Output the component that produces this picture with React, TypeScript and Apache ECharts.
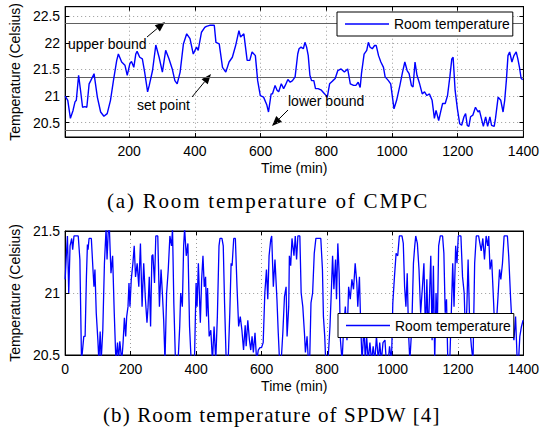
import React, { useEffect, useRef } from 'react';
import * as echarts from 'echarts';

const SERIES_NAME = 'Room temperature';

// CMPC room temperature: [time (min), temperature (Celsius)]
const topData: [number, number][] = [
  [5, 21.0], [13, 20.92], [21, 20.58], [29, 20.73], [35, 20.89], [39, 20.92], [46, 21.39], [52, 21.1],
  [58, 20.79], [65, 20.8], [71, 20.79], [78, 21.23], [83, 21.29], [93, 21.42], [103, 20.98], [113, 20.7],
  [123, 20.62], [133, 20.67], [143, 20.92], [152, 21.29], [162, 21.67], [167, 21.79], [177, 21.64],
  [187, 21.58], [194, 21.39], [202, 21.61], [207, 21.65], [214, 21.54], [220, 21.79], [224, 21.84],
  [232, 21.73], [240, 21.7], [247, 21.45], [256, 21.08], [261, 21.2], [271, 21.48], [281, 21.96],
  [291, 21.73], [301, 21.45], [311, 21.86], [321, 21.7], [331, 21.51], [339, 21.29], [346, 21.23],
  [355, 21.45], [365, 21.98], [375, 22.17], [385, 22.08], [395, 21.79], [405, 21.92], [410, 21.86],
  [420, 22.2], [430, 22.29], [435, 22.31], [445, 22.33], [459, 22.33], [464, 22.01], [474, 21.98],
  [484, 21.54], [494, 21.45], [504, 21.64], [514, 21.73], [524, 21.95], [534, 22.23], [539, 22.11],
  [549, 22.17], [559, 21.67], [567, 21.67], [574, 21.83], [584, 21.76], [591, 21.29], [599, 21.01],
  [609, 20.98], [619, 20.83], [624, 20.7], [632, 21.04], [636, 21.04], [644, 21.2], [650, 21.11],
  [655, 21.08], [663, 21.23], [670, 21.14], [675, 21.2], [683, 21.31], [690, 21.26], [697, 21.29],
  [705, 21.36], [713, 21.79], [717, 21.89], [723, 21.92], [730, 21.89], [735, 22.01], [740, 21.92],
  [745, 21.76], [750, 21.39], [755, 21.29], [762, 21.29], [767, 21.14], [775, 21.14], [785, 21.11],
  [795, 21.04], [803, 20.98], [810, 21.23], [820, 21.29], [827, 21.33], [835, 21.48], [845, 21.51],
  [855, 21.45], [865, 21.51], [873, 21.23], [883, 21.2], [890, 21.2], [897, 21.26], [903, 21.16],
  [907, 21.42], [915, 21.79], [923, 21.86], [928, 22.01], [933, 21.92], [940, 21.89], [947, 21.95],
  [952, 21.95], [959, 21.76], [966, 21.64], [974, 21.54], [979, 21.36], [989, 21.29], [996, 21.23],
  [1006, 20.76], [1014, 20.92], [1024, 21.2], [1032, 21.45], [1039, 21.64], [1046, 21.48], [1052, 21.42],
  [1059, 21.2], [1064, 21.17], [1070, 21.64], [1076, 21.39], [1084, 21.23], [1092, 21.04], [1099, 21.08],
  [1106, 21.01], [1114, 21.04], [1122, 20.92], [1129, 20.58], [1134, 20.73], [1142, 20.54], [1149, 20.73],
  [1154, 20.86], [1162, 20.86], [1169, 21.01], [1176, 21.36], [1182, 21.7], [1186, 21.73], [1192, 21.11],
  [1199, 20.76], [1206, 20.48], [1212, 20.45], [1219, 20.61], [1224, 20.67], [1229, 20.45], [1234, 20.43],
  [1239, 20.61], [1246, 20.64], [1254, 20.79], [1262, 20.7], [1266, 20.73], [1272, 20.58], [1278, 20.43],
  [1285, 20.61], [1291, 20.43], [1298, 20.61], [1303, 20.45], [1311, 20.43], [1315, 20.58], [1323, 20.98],
  [1331, 20.92], [1338, 20.7], [1343, 20.92], [1348, 21.29], [1353, 21.76], [1358, 21.83], [1365, 21.64],
  [1371, 21.76], [1378, 21.83], [1383, 21.7], [1388, 21.54], [1393, 21.33], [1398, 21.31],
];

// SPDW room temperature: [time (min), temperature (Celsius)]
const bottomData: [number, number][] = [
  [0, 21.11], [3, 21.27], [7, 21.46], [11, 21.0], [15, 21.38], [20, 21.44], [23, 21.35], [27, 21.46],
  [40, 21.46], [45, 21.27], [50, 20.45], [57, 20.65], [61, 20.65], [65, 21.13], [68, 21.39], [70, 21.35],
  [73, 21.44], [80, 21.44], [85, 21.19], [88, 21.05], [91, 21.19], [95, 20.84], [100, 20.62], [103, 20.45],
  [107, 20.69], [110, 20.45], [115, 20.7], [120, 21.24], [125, 21.52], [128, 21.27], [132, 21.52],
  [135, 21.53], [140, 21.16], [145, 21.3], [150, 20.84], [155, 20.45], [160, 20.6], [163, 20.45],
  [167, 20.61], [173, 20.45], [177, 20.6], [181, 20.8], [185, 20.65], [188, 20.81], [192, 20.89],
  [195, 21.08], [198, 20.89], [202, 21.11], [207, 21.24], [211, 21.38], [215, 21.13], [220, 21.24],
  [225, 21.05], [230, 21.4], [235, 20.89], [240, 21.24], [245, 20.96], [250, 20.76], [253, 20.88],
  [257, 21.13], [261, 20.73], [265, 21.3], [268, 21.31], [273, 21.08], [277, 21.46], [283, 21.46],
  [288, 20.89], [293, 21.19], [297, 21.0], [301, 20.78], [305, 20.45], [310, 21.0], [315, 21.19],
  [320, 21.46], [325, 21.38], [328, 21.52], [332, 20.92], [337, 20.45], [345, 20.45], [350, 20.73],
  [353, 21.0], [358, 20.89], [362, 21.38], [365, 21.52], [370, 21.3], [375, 21.4], [380, 20.73],
  [385, 20.45], [395, 20.45], [400, 21.08], [403, 20.89], [407, 21.24], [413, 20.76], [417, 21.11],
  [421, 21.3], [425, 21.05], [429, 21.13], [432, 20.81], [435, 21.04], [440, 20.65], [445, 20.7],
  [450, 20.45], [455, 20.73], [460, 20.45], [465, 20.81], [470, 21.38], [473, 21.44], [479, 21.44],
  [483, 21.38], [487, 20.92], [492, 20.45], [498, 20.45], [503, 20.84], [507, 21.24], [510, 21.22],
  [515, 21.44], [520, 21.44], [525, 21.05], [530, 20.73], [535, 20.81], [540, 20.7], [545, 20.54],
  [550, 20.74], [553, 20.57], [558, 20.78], [563, 20.62], [567, 20.54], [571, 20.65], [575, 20.52],
  [580, 20.68], [585, 20.45], [590, 20.54], [595, 20.56], [600, 20.56], [605, 20.6], [610, 21.0],
  [615, 21.19], [619, 20.95], [623, 21.3], [628, 21.43], [631, 21.46], [636, 21.05], [641, 21.27],
  [647, 20.95], [651, 20.68], [655, 20.45], [660, 20.45], [665, 20.68], [670, 20.97], [675, 21.05],
  [678, 20.65], [683, 20.89], [685, 21.3], [689, 21.22], [693, 21.44], [699, 21.3], [703, 21.46],
  [707, 21.27], [711, 21.46], [717, 21.46], [721, 21.0], [726, 20.89], [731, 20.68], [734, 20.52],
  [739, 20.65], [743, 20.45], [747, 20.45], [751, 20.92], [756, 21.0], [761, 21.32], [766, 21.44],
  [781, 21.44], [786, 21.19], [789, 20.81], [793, 20.65], [796, 20.45], [803, 20.45], [809, 20.73],
  [813, 21.0], [817, 21.3], [821, 21.03], [826, 21.27], [829, 20.95], [833, 21.4], [837, 21.16],
  [841, 20.62], [846, 20.45], [851, 20.73], [856, 20.89], [861, 20.62], [866, 21.05], [871, 20.95],
  [876, 21.11], [881, 21.03], [886, 21.24], [891, 21.08], [894, 20.89], [899, 21.13], [903, 20.73],
  [907, 20.45], [913, 20.73], [917, 20.45], [921, 20.65], [926, 20.45], [931, 20.6], [936, 20.45],
  [941, 20.57], [946, 20.45], [951, 20.65], [957, 20.45], [961, 20.6], [966, 20.45], [971, 20.6],
  [977, 20.62], [981, 20.45], [987, 20.45], [991, 20.57], [997, 20.45], [1001, 20.92], [1006, 21.13],
  [1011, 21.32], [1016, 21.3], [1021, 21.46], [1029, 21.46], [1033, 21.4], [1037, 21.05], [1041, 20.89],
  [1045, 21.16], [1049, 20.68], [1053, 20.45], [1059, 20.73], [1064, 21.24], [1068, 21.38], [1071, 21.46],
  [1076, 21.4], [1081, 21.19], [1086, 20.84], [1091, 21.03], [1096, 21.24], [1101, 20.65], [1105, 21.11],
  [1109, 20.65], [1113, 20.97], [1117, 21.3], [1121, 20.62], [1125, 21.22], [1129, 20.45], [1133, 21.0],
  [1137, 20.73], [1141, 21.38], [1146, 21.46], [1153, 21.46], [1157, 21.32], [1161, 20.84], [1165, 20.95],
  [1169, 20.45], [1175, 20.45], [1180, 20.87], [1184, 21.24], [1188, 20.89], [1193, 21.38], [1197, 21.24],
  [1201, 21.46], [1209, 21.46], [1214, 21.13], [1219, 21.0], [1223, 20.65], [1227, 20.87], [1231, 21.27],
  [1236, 20.73], [1241, 20.57], [1246, 20.45], [1251, 21.24], [1256, 21.46], [1263, 21.46], [1267, 21.4],
  [1271, 21.34], [1276, 21.44], [1281, 21.27], [1286, 21.46], [1291, 21.38], [1294, 21.46], [1298, 21.19],
  [1303, 21.27], [1309, 20.92], [1313, 20.65], [1318, 20.78], [1323, 21.0], [1327, 21.19], [1331, 21.11],
  [1336, 21.24], [1341, 21.46], [1351, 21.46], [1355, 21.3], [1361, 20.95], [1366, 20.7], [1371, 20.62],
  [1376, 20.81], [1381, 20.45], [1385, 20.45], [1389, 20.65], [1394, 20.73], [1399, 20.78],
];

const boundValues = [20.36, 21.36, 22.36];
const topXTicks = [200, 400, 600, 800, 1000, 1200, 1400];
const topYTicks = [20.5, 21, 21.5, 22, 22.5];
const captions = ['(a) Room temperature of CMPC', '(b) Room temperature of SPDW [4]'];
const captionSpacing = ['1.8', '1.1'];
const annotationTexts = ['upper bound', 'set point', 'lower bound'];

const SANS = 'Liberation Sans, Arial, Helvetica, sans-serif';
const SERIF = 'Liberation Serif, Times New Roman, serif';

const gridLine = { show: true, lineStyle: { color: '#9a9a9a', type: [1, 3] as any, width: 1 } };
const tickIn = { show: true, inside: true, length: 4, lineStyle: { color: '#000' } };
const axLine = { show: true, onZero: false, lineStyle: { color: '#000', width: 1 } };
const lbl = { color: '#000', fontSize: 14, fontFamily: SANS, formatter: (v: number) => String(v) };

function arrow(x1: number, y1: number, x2: number, y2: number) {
  const ang = Math.atan2(y2 - y1, x2 - x1);
  const L = 10, W = 4;
  const bx = x2 - L * Math.cos(ang), by = y2 - L * Math.sin(ang);
  const px = -Math.sin(ang) * W, py = Math.cos(ang) * W;
  return [
    { type: 'line', shape: { x1, y1, x2: bx, y2: by }, style: { stroke: '#000', lineWidth: 1 } },
    { type: 'polygon', shape: { points: [[x2, y2], [bx + px, by + py], [bx - px, by - py]] }, style: { fill: '#000' } },
  ];
}

function legendAt(left: number, top: number) {
  return {
    data: [{ name: SERIES_NAME, icon: 'rect' }], left, top, orient: 'horizontal', selectedMode: false,
    padding: [5, 3, 5, 8], itemWidth: 44, itemHeight: 1.3,
    itemStyle: { color: '#0000ff' },
    backgroundColor: '#fff', borderColor: '#000', borderWidth: 1,
    textStyle: { color: '#000', fontSize: 13.9, fontFamily: SANS, lineHeight: 14 },
  };
}

export default function App() {
  const ref = useRef<HTMLDivElement>(null);
  useEffect(() => {
    if (!ref.current) return;
    const chart = echarts.init(ref.current, null, { renderer: 'svg' });
    const option: any = {
      animation: false,
      grid: [
        { left: 62, top: 6, width: 467, height: 131, show: true, borderColor: '#000', borderWidth: 1, backgroundColor: '#fff' },
        { left: 62, top: 231, width: 467, height: 124, show: true, borderColor: '#000', borderWidth: 1, backgroundColor: '#fff' },
      ],
      xAxis: [
        {
          type: 'value', gridIndex: 0, min: 5, max: 1400, position: 'bottom',
          axisLine: axLine, axisTick: { ...tickIn, customValues: topXTicks },
          axisLabel: { ...lbl, margin: 7, customValues: topXTicks }, splitLine: gridLine,
          name: 'Time (min)', nameLocation: 'middle', nameGap: 24,
          nameTextStyle: { color: '#000', fontSize: 14, fontFamily: SANS },
        },
        {
          type: 'value', gridIndex: 0, min: 5, max: 1400, position: 'top',
          axisLine: axLine, axisTick: { ...tickIn, customValues: topXTicks },
          axisLabel: { show: false }, splitLine: { show: false },
        },
        {
          type: 'value', gridIndex: 1, min: 0, max: 1400, interval: 200, position: 'bottom',
          axisLine: axLine, axisTick: tickIn,
          axisLabel: { ...lbl, margin: 7 }, splitLine: gridLine,
          name: 'Time (min)', nameLocation: 'middle', nameGap: 24,
          nameTextStyle: { color: '#000', fontSize: 14, fontFamily: SANS },
        },
        {
          type: 'value', gridIndex: 1, min: 0, max: 1400, interval: 200, position: 'top',
          axisLine: axLine, axisTick: tickIn, axisLabel: { show: false }, splitLine: { show: false },
        },
      ],
      yAxis: [
        {
          type: 'value', gridIndex: 0, min: 20.23, max: 22.68, position: 'left',
          axisLine: axLine, axisTick: { ...tickIn, customValues: topYTicks },
          axisLabel: { ...lbl, margin: 5, customValues: topYTicks }, splitLine: gridLine,
          name: 'Temperature (Celsius)', nameLocation: 'middle', nameGap: 40,
          nameTextStyle: { color: '#000', fontSize: 14, fontFamily: SANS },
        },
        {
          type: 'value', gridIndex: 0, min: 20.23, max: 22.68, position: 'right',
          axisLine: axLine, axisTick: { ...tickIn, customValues: topYTicks },
          axisLabel: { show: false }, splitLine: { show: false },
        },
        {
          type: 'value', gridIndex: 1, min: 20.5, max: 21.5, interval: 0.5, position: 'left',
          axisLine: axLine, axisTick: tickIn,
          axisLabel: { ...lbl, margin: 5 }, splitLine: gridLine,
          name: 'Temperature (Celsius)', nameLocation: 'middle', nameGap: 40,
          nameTextStyle: { color: '#000', fontSize: 14, fontFamily: SANS },
        },
        {
          type: 'value', gridIndex: 1, min: 20.5, max: 21.5, interval: 0.5, position: 'right',
          axisLine: axLine, axisTick: tickIn, axisLabel: { show: false }, splitLine: { show: false },
        },
      ],
      legend: [legendAt(337, 12), legendAt(338, 313.5)],
      series: [
        {
          name: SERIES_NAME, type: 'line', xAxisIndex: 0, yAxisIndex: 0, data: topData,
          symbol: 'none', lineStyle: { color: '#0000ff', width: 1.4 }, itemStyle: { color: '#0000ff' }, z: 3,
          markLine: {
            silent: true, symbol: 'none', label: { show: false }, z: 2,
            lineStyle: { color: '#606060', type: 'solid', width: 1 },
            data: boundValues.map((v) => ({ yAxis: v })),
          },
        },
        {
          name: SERIES_NAME, type: 'line', xAxisIndex: 2, yAxisIndex: 2, data: bottomData,
          symbol: 'none', lineStyle: { color: '#0000ff', width: 1.3 }, itemStyle: { color: '#0000ff' }, z: 3,
        },
      ],
      graphic: [
        { type: 'text', left: 68, top: 37, style: { text: annotationTexts[0], fill: '#000', font: `14px ${SANS}` }, z: 10 },
        ...arrow(147, 37, 165, 22),
        { type: 'text', left: 137, top: 98, style: { text: annotationTexts[1], fill: '#000', font: `14px ${SANS}` }, z: 10 },
        ...arrow(192, 97, 211, 74),
        { type: 'text', left: 288, top: 94, style: { text: annotationTexts[2], fill: '#000', font: `14px ${SANS}` }, z: 10 },
        ...arrow(288, 110, 272, 126),
        { type: 'text', x: 107, y: 201, style: { text: captions[0], fill: '#000', font: `21px ${SERIF}`, textAlign: 'left', textVerticalAlign: 'middle' } },
        { type: 'text', x: 103, y: 415, style: { text: captions[1], fill: '#000', font: `21px ${SERIF}`, textAlign: 'left', textVerticalAlign: 'middle' } },
      ],
    };
    chart.setOption(option);
    const applySpacing = () => {
      ref.current?.querySelectorAll('text').forEach((t) => {
        const i = captions.indexOf(t.textContent || '');
        if (i >= 0) t.setAttribute('letter-spacing', captionSpacing[i]);
      });
    };
    applySpacing();
    chart.on('finished', applySpacing);
    const id = window.setTimeout(applySpacing, 50);
    return () => {
      window.clearTimeout(id);
      chart.dispose();
    };
  }, []);
  return <div ref={ref} style={{ position: 'fixed', left: 0, top: 0, width: 542, height: 436, background: '#fff' }} />;
}
